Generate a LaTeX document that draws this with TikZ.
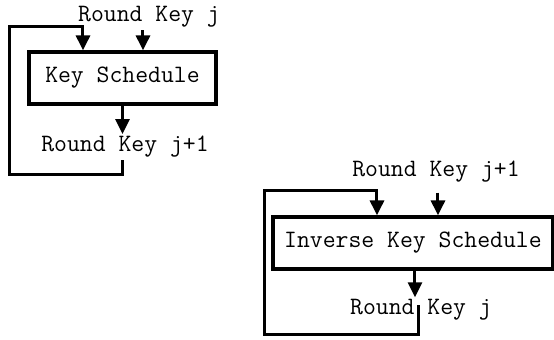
\documentclass[tikz,border=0pt]{standalone}
\usetikzlibrary{arrows.meta,positioning,calc}

\begin{document}
\begin{tikzpicture}
[x=0.5pt,y=-0.5pt,
font=\ttfamily\fontsize{12.5}{14}\selectfont,
ksbox/.style={draw,line width=1.6pt,minimum height=26pt,inner sep=0pt},
rklabel/.style={anchor=base,inner sep=1pt},
dedge/.style={line width=1.5pt,>={Triangle[length=7.5pt,width=7pt]}}]
\useasboundingbox (0,0) rectangle (554,340);
%%
%%%%%%%%%%%%%%%%%%
% Key schedule
%%%%%%%%%%%%%%%%%%
\node[ksbox,minimum width=93.5pt] (ks) at (122.5,78) {Key Schedule};
\node[rklabel] (rkin) at (149,22) {Round Key j};
\node[rklabel] (rkout) at (125,152) {Round Key j+1};
\draw [dedge,->] ([xshift=-3pt]rkin.south) -- ([xshift=-3pt]rkin.south |- ks.north);
\draw [dedge,->] (ks.south) -- (ks.south |- rkout.north);
\draw [dedge,->] ([xshift=-1pt]rkout.south) -- ++(0,14) -| (10,27) -| ([xshift=-19.75pt]ks.north);
%%
%%%%%%%%%%%%%%%%%%
% Inverse key schedule
%%%%%%%%%%%%%%%%%%
\node[ksbox,minimum width=140pt] (iks) at (413,243) {Inverse Key Schedule};
\node[rklabel] (rkin2) at (436,177) {Round Key j+1};
\node[rklabel] (rkout2) at (421,315) {Round Key j};
\draw [dedge,->] ([xshift=1pt,yshift=-3.8pt]rkin2.south) -- ([xshift=1pt]rkin2.south |- iks.north);
\draw [dedge,->] ([xshift=1pt]iks.south) -- ([xshift=1pt]iks.south |- rkout2.north);
\draw [dedge,->] ([xshift=-1pt,yshift=2.5pt]rkout2.center) |- (265,335) |- (377,191) -- ([xshift=-18pt]iks.north);
%%
\end{tikzpicture}
\end{document}
